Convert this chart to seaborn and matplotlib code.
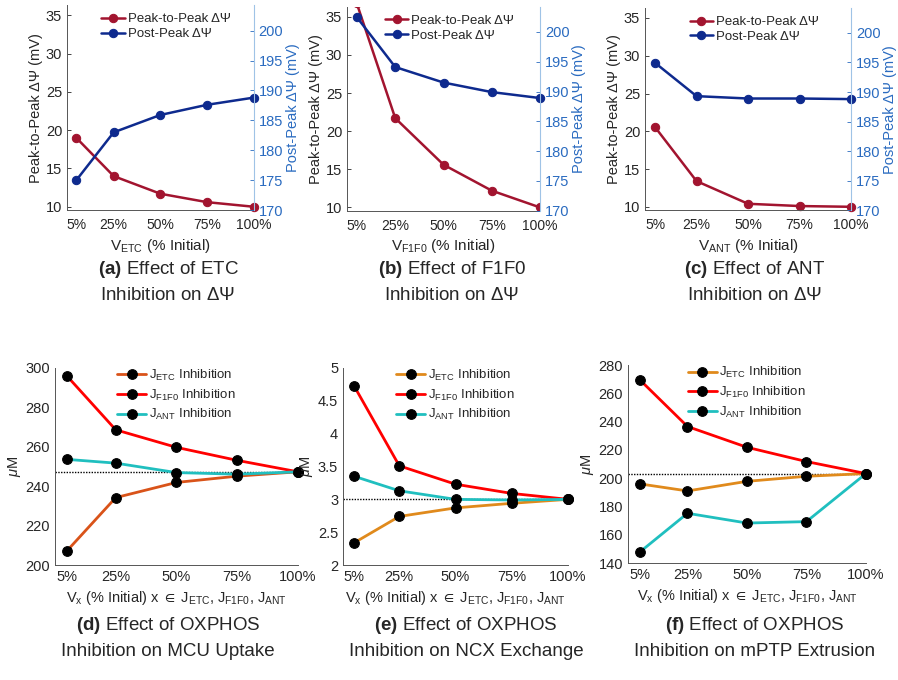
import matplotlib
matplotlib.use("Agg")
import matplotlib.pyplot as plt
from matplotlib import font_manager
import seaborn as sns
import pandas as pd

# Inhibition levels (% of initial)
levels = [5, 25, 50, 75, 100]
level_labels = ["5%", "25%", "50%", "75%", "100%"]

# Top row: membrane potential (mV)
etc_peak = [19.0, 14.0, 11.7, 10.6, 10.0]
etc_post = [175.0, 183.0, 185.9, 187.6, 188.8]
f1f0_peak = [36.8, 21.7, 15.6, 12.2, 10.0]
f1f0_post = [202.5, 194.1, 191.5, 189.9, 188.9]
ant_peak = [20.5, 13.4, 10.4, 10.1, 10.0]
ant_post = [194.9, 189.3, 188.9, 188.9, 188.8]

# Bottom row: calcium fluxes (uM)
mcu_etc = [207.3, 234.2, 241.9, 245.1, 247.3]
mcu_f1f0 = [295.8, 268.6, 259.7, 253.1, 247.3]
mcu_ant = [253.6, 251.7, 246.9, 246.1, 247.3]
ncx_etc = [2.34, 2.74, 2.87, 2.94, 3.0]
ncx_f1f0 = [4.72, 3.51, 3.23, 3.09, 3.0]
ncx_ant = [3.35, 3.13, 3.0, 2.99, 3.0]
mptp_etc = [196.0, 191.0, 197.8, 201.4, 203.3]
mptp_f1f0 = [269.6, 236.6, 221.9, 211.8, 203.3]
mptp_ant = [147.8, 175.2, 168.3, 169.3, 203.3]

sns.set_style("white")
names = {f.name for f in font_manager.fontManager.ttflist}
narrow = "Liberation Sans Narrow" if "Liberation Sans Narrow" in names else "Liberation Sans"
plt.rcParams["font.family"] = ["Liberation Sans", "DejaVu Sans"]
plt.rcParams["mathtext.fontset"] = "custom"
plt.rcParams["mathtext.rm"] = "Liberation Sans"
plt.rcParams["mathtext.it"] = "Liberation Sans:italic"
plt.rcParams["mathtext.bf"] = narrow + ":bold"
plt.rcParams["mathtext.default"] = "regular"

TXT = "#262626"
RED = "#A2142F"
NAVY = "#0E2A8E"
BLUE = "#2A6BC0"

fig = plt.figure(figsize=(8.98, 6.8), dpi=100)


def style_axis(ax, pad=3.5):
    ax.tick_params(direction="in", length=3, width=0.6, labelsize=10, colors=TXT)
    ax.tick_params(axis="x", pad=pad)
    for s in ["left", "bottom"]:
        ax.spines[s].set_color("#555555")
        ax.spines[s].set_linewidth(0.7)
    ax.set_xlim(0, 100)
    ax.set_xticks(levels)
    ax.set_xticklabels(level_labels)


top_panels = [
    ([0.0746, 0.691, 0.208, 0.301], etc_peak, etc_post, "ETC", True, 168),
    ([0.3864, 0.690, 0.215, 0.300], f1f0_peak, f1f0_post, "F1F0", False, 452),
    ([0.7183, 0.691, 0.2294, 0.297], ant_peak, ant_post, "ANT", True, 755),
]
top_caps = ["(a)", "(b)", "(c)"]
for i, (rect, peak, post, sub, clip_ok, cap_x) in enumerate(top_panels):
    ax = fig.add_axes(rect)
    df = pd.DataFrame({"level": levels, "peak": peak, "post": post})
    sns.lineplot(data=df, x="level", y="peak", ax=ax, color=RED, marker="o",
                 markersize=6, markeredgecolor=RED, linewidth=1.8,
                 label="Peak-to-Peak ΔΨ")
    ax2 = ax.twinx()
    sns.lineplot(data=df, x="level", y="post", ax=ax2, color=NAVY, marker="o",
                 markersize=6, markeredgecolor=NAVY, linewidth=1.8,
                 label="Post-Peak ΔΨ")
    for ln in ax.lines:
        ln.set_clip_on(not clip_ok)
    for ln in ax2.lines:
        ln.set_clip_on(False)
    style_axis(ax, pad=6)
    ax.tick_params(axis="y", labelsize=10.5)
    ax.set_ylim(9.56, 36.3)
    ax.set_yticks([10, 15, 20, 25, 30, 35])
    ax2.set_ylim(170, 204.2)
    ax2.set_yticks([170, 175, 180, 185, 190, 195, 200])
    ax2.tick_params(direction="in", length=3, width=0.6, labelsize=10.5, colors=BLUE)
    for s in ["top", "left", "bottom"]:
        ax2.spines[s].set_visible(False)
    ax.spines["top"].set_visible(False)
    ax.spines["right"].set_visible(False)
    ax2.spines["right"].set_color("#9FC3E6")
    ax2.spines["right"].set_linewidth(0.8)
    ax.set_ylabel("Peak-to-Peak ΔΨ (mV)", fontsize=10.5, color=TXT, labelpad=2)
    ax2.set_ylabel("Post-Peak ΔΨ (mV)", fontsize=10.5, color=BLUE, labelpad=2)
    ax.set_xlabel("$V_{%s}$ (%% Initial)" % sub, fontsize=11, color=TXT,
                  family=narrow, labelpad=3)
    h1, l1 = ax.get_legend_handles_labels()
    h2, l2 = ax2.get_legend_handles_labels()
    ax2.get_legend().remove()
    ax.legend(h1 + h2, l1 + l2, loc="upper center", bbox_to_anchor=(0.53, 1.02),
              frameon=False, fontsize=9.5, handlelength=1.8, handletextpad=0.2,
              labelspacing=0.2, labelcolor=TXT)
    cx = cap_x / 898
    fig.text(cx, 1 - 270 / 680, "$\\bf{%s}$ Effect of %s" % (top_caps[i], sub),
             ha="center", va="center", fontsize=13.5, family=narrow, color=TXT)
    fig.text(cx, 1 - 296 / 680, "Inhibition on $\\it{\\Delta\\Psi}$",
             ha="center", va="center", fontsize=13.5, family=narrow, color=TXT)

# Bottom row
bottom_panels = [
    ([0.0612, 0.169, 0.2706, 0.290], mcu_etc, mcu_f1f0, mcu_ant, "#D95319",
     (200, 300), [200, 220, 240, 260, 280, 300], 247.3,
     "(d)", "Inhibition on MCU Uptake", 168),
    ([0.3820, 0.169, 0.2506, 0.290], ncx_etc, ncx_f1f0, ncx_ant, "#E08A1C",
     (2, 5), [2, 2.5, 3, 3.5, 4, 4.5, 5], 3.0,
     "(e)", "Inhibition on NCX Exchange", 466),
    ([0.6993, 0.172, 0.2650, 0.291], mptp_etc, mptp_f1f0, mptp_ant, "#E08A1C",
     (140, 280), [140, 160, 180, 200, 220, 240, 260, 280], 203.3,
     "(f)", "Inhibition on mPTP Extrusion", 755),
]
for rect, e_vals, f_vals, a_vals, ecol, ylim, yticks, base, cap, cap2, cap_x in bottom_panels:
    ax = fig.add_axes(rect)
    ax.axhline(base, color="black", linestyle=(0, (1, 1)), linewidth=1.0, zorder=1)
    long_df = pd.DataFrame({
        "level": levels * 3,
        "value": e_vals + f_vals + a_vals,
        "series": ["$J_{ETC}$ Inhibition"] * 5 + ["$J_{F1F0}$ Inhibition"] * 5
        + ["$J_{ANT}$ Inhibition"] * 5,
    })
    pal = {"$J_{ETC}$ Inhibition": ecol, "$J_{F1F0}$ Inhibition": "#FF0000",
           "$J_{ANT}$ Inhibition": "#20BFBF"}
    sns.lineplot(data=long_df, x="level", y="value", hue="series", palette=pal,
                 ax=ax, marker="o", markersize=7, markerfacecolor="black",
                 markeredgecolor="black", linewidth=2.0)
    for ln in ax.lines:
        ln.set_clip_on(False)
    style_axis(ax)
    ax.tick_params(labelsize=10.5)
    sns.despine(ax=ax)
    ax.set_ylim(*ylim)
    ax.set_yticks(yticks)
    ax.set_yticklabels([("%g" % t) for t in yticks])
    ax.set_ylabel("$\\mathit{\\mu}$M", fontsize=10.5, color=TXT, labelpad=2)
    ax.set_xlabel("$V_x$ (% Initial) x $\\in$ $J_{ETC}$, $J_{F1F0}$, $J_{ANT}$",
                  fontsize=10.5, color=TXT, family=narrow, labelpad=4)
    ax.legend(loc="upper center", bbox_to_anchor=(0.5, 1.06), frameon=False,
              fontsize=9.5, handlelength=2.2, handletextpad=0.2,
              labelspacing=0.35, labelcolor=TXT)
    cx = cap_x / 898
    fig.text(cx, 1 - 625 / 680, "$\\bf{%s}$ Effect of OXPHOS" % cap,
             ha="center", va="center", fontsize=13.5, family=narrow, color=TXT)
    fig.text(cx, 1 - 652 / 680, cap2,
             ha="center", va="center", fontsize=13.5, family=narrow, color=TXT)

fig.savefig("out.png", dpi=100)
